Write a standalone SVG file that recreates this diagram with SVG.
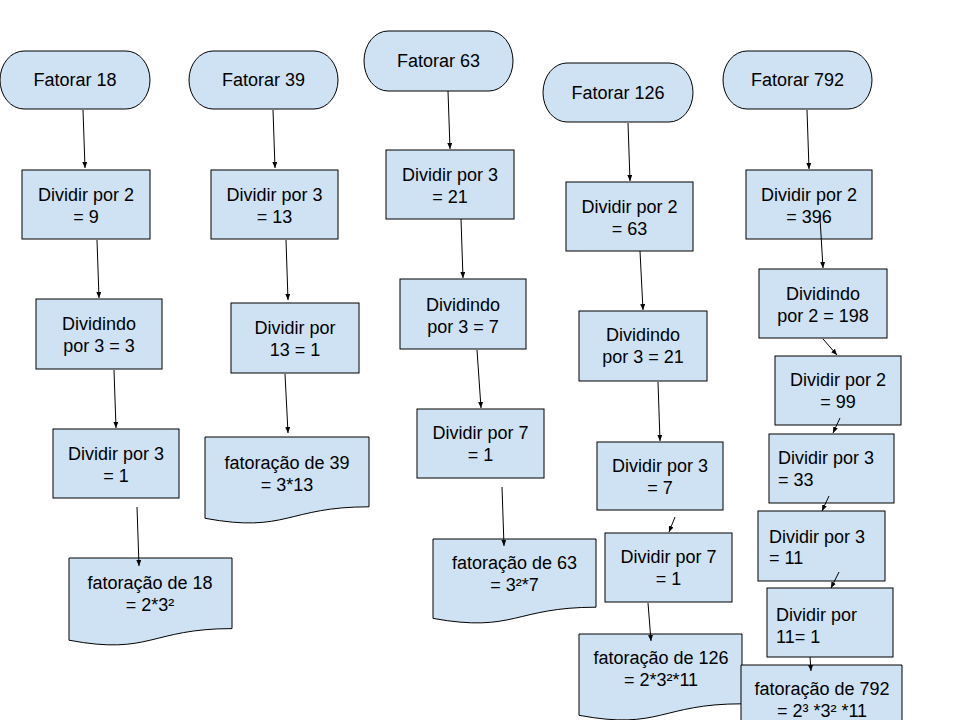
<svg xmlns="http://www.w3.org/2000/svg" width="960" height="720" viewBox="0 0 960 720">
<style>
.n{fill:#cfe2f3;stroke:#000;stroke-width:1}
text{font-family:"Liberation Sans",Arial,sans-serif;font-size:18px;fill:#000}
.c{text-anchor:middle}
.e{stroke:#000;stroke-width:1;fill:none;marker-end:url(#ah)}
</style>
<defs>
<marker id="ah" viewBox="0 0 6 5" refX="6" refY="2.5" markerWidth="6" markerHeight="5" markerUnits="userSpaceOnUse" orient="auto">
<path d="M0,0 L6,2.5 L0,5 Z" fill="#000"/>
</marker>
</defs>
<rect width="960" height="720" fill="#fff"/>

<!-- Column 18 -->
<g id="t18"><rect class="n" x="0" y="51" width="150" height="58" rx="24" ry="29"/><text class="c" x="75" y="86">Fatorar 18</text></g>
<g id="a18"><rect class="n" x="22" y="170" width="128" height="69"/><text class="c" x="86" y="201">Dividir por 2</text><text class="c" x="86" y="223">= 9</text></g>
<g id="b18"><rect class="n" x="36" y="299" width="126" height="70"/><text class="c" x="99" y="330">Dividindo</text><text class="c" x="99" y="352">por 3 = 3</text></g>
<g id="c18"><rect class="n" x="53" y="429" width="126" height="69"/><text class="c" x="116" y="460">Dividir por 3</text><text class="c" x="116" y="482">= 1</text></g>
<g id="d18"><path class="n" d="M69,558 H232 V628.6 C150.5,628.6 150.5,655.5 69,640.2 Z"/><text class="c" x="150" y="589">fatoração de 18</text><text class="c" x="150" y="611">= 2*3²</text></g>

<!-- Column 39 -->
<g id="t39"><rect class="n" x="189" y="51" width="149" height="58" rx="24" ry="29"/><text class="c" x="263.5" y="86">Fatorar 39</text></g>
<g id="a39"><rect class="n" x="211" y="170" width="127" height="69"/><text class="c" x="274.5" y="201">Dividir por 3</text><text class="c" x="274.5" y="223">= 13</text></g>
<g id="b39"><rect class="n" x="231" y="303" width="128" height="70"/><text class="c" x="295" y="334">Dividir por</text><text class="c" x="295" y="356">13 = 1</text></g>
<g id="d39"><path class="n" d="M205,437 H369 V506.8 C287,506.8 287,533.4 205,518.3 Z"/><text class="c" x="287" y="469">fatoração de 39</text><text class="c" x="287" y="491">= 3*13</text></g>

<!-- Column 63 -->
<g id="t63"><rect class="n" x="364" y="31" width="149" height="60" rx="24" ry="30"/><text class="c" x="438.5" y="67">Fatorar 63</text></g>
<g id="a63"><rect class="n" x="386" y="150" width="128" height="69"/><text class="c" x="450" y="181">Dividir por 3</text><text class="c" x="450" y="203">= 21</text></g>
<g id="b63"><rect class="n" x="400" y="279" width="126" height="70"/><text class="c" x="463" y="311">Dividindo</text><text class="c" x="463" y="333">por 3 = 7</text></g>
<g id="c63"><rect class="n" x="417" y="409" width="127" height="69"/><text class="c" x="480.5" y="439">Dividir por 7</text><text class="c" x="480.5" y="461">= 1</text></g>
<g id="d63"><path class="n" d="M433,539 H596 V607.2 C514.5,607.2 514.5,633.1 433,618.4 Z"/><text class="c" x="514.5" y="569">fatoração de 63</text><text class="c" x="514.5" y="591">= 3²*7</text></g>

<!-- Column 126 -->
<g id="t126"><rect class="n" x="543" y="63" width="150" height="59" rx="24" ry="29.5"/><text class="c" x="618" y="99">Fatorar 126</text></g>
<g id="a126"><rect class="n" x="566" y="182" width="127" height="69"/><text class="c" x="629.5" y="213">Dividir por 2</text><text class="c" x="629.5" y="235">= 63</text></g>
<g id="b126"><rect class="n" x="579" y="311" width="128" height="70"/><text class="c" x="643" y="341">Dividindo</text><text class="c" x="643" y="363">por 3 = 21</text></g>
<g id="c126"><rect class="n" x="597" y="442" width="126" height="68"/><text class="c" x="660" y="472">Dividir por 3</text><text class="c" x="660" y="494">= 7</text></g>
<g id="e126"><rect class="n" x="605" y="533" width="127" height="69"/><text class="c" x="668.5" y="563">Dividir por 7</text><text class="c" x="668.5" y="585">= 1</text></g>
<g id="d126"><path class="n" d="M579,634 H742 V703.8 C660.5,703.8 660.5,730.4 579,715.3 Z"/><text class="c" x="661" y="664">fatoração de 126</text><text class="c" x="661" y="686">= 2*3²*11</text></g>

<!-- Column 792 -->
<g id="t792"><rect class="n" x="723" y="51" width="149" height="58" rx="24" ry="29"/><text class="c" x="797.5" y="86">Fatorar 792</text></g>
<g id="a792"><rect class="n" x="746" y="170" width="126" height="69"/><text class="c" x="809" y="201">Dividir por 2</text><text class="c" x="809" y="223">= 396</text></g>
<g id="b792"><rect class="n" x="759" y="269" width="128" height="69"/><text class="c" x="823" y="300">Dividindo</text><text class="c" x="823" y="322">por 2 = 198</text></g>
<g id="c792"><rect class="n" x="775" y="356" width="126" height="69"/><text class="c" x="838" y="386">Dividir por 2</text><text class="c" x="838" y="408">= 99</text></g>
<g id="e792"><rect class="n" x="769" y="434" width="125" height="69"/><text x="778" y="464">Dividir por 3</text><text x="778" y="486">= 33</text></g>
<g id="f792"><rect class="n" x="758" y="511" width="127" height="70"/><text x="769" y="543">Dividir por 3</text><text x="769" y="564">= 11</text></g>
<g id="g792"><rect class="n" x="767" y="588" width="126" height="69"/><text x="776" y="621">Dividir por</text><text x="776" y="643">11= 1</text></g>
<g id="d792"><path class="n" d="M741,665 H902 V734.8 C821.5,734.8 821.5,761.4 741,746.3 Z"/><text class="c" x="822" y="695">fatoração de 792</text><text class="c" x="822" y="717">= 2³ *3² *11</text></g>

<g id="connectors">
<line class="e" x1="83" y1="110" x2="85" y2="168"/>
<line class="e" x1="97" y1="240" x2="99" y2="298"/>
<line class="e" x1="114" y1="370" x2="116" y2="428"/>
<line class="e" x1="137" y1="507" x2="139" y2="566"/>
<line class="e" x1="273" y1="110" x2="275" y2="168"/>
<line class="e" x1="286" y1="240" x2="288" y2="300"/>
<line class="e" x1="285" y1="374" x2="288" y2="433"/>
<line class="e" x1="448" y1="91" x2="450" y2="149"/>
<line class="e" x1="461" y1="219" x2="463" y2="278"/>
<line class="e" x1="477" y1="350" x2="481" y2="408"/>
<line class="e" x1="502" y1="487" x2="504" y2="546"/>
<line class="e" x1="628" y1="123" x2="630" y2="181"/>
<line class="e" x1="640" y1="251" x2="643" y2="310"/>
<line class="e" x1="658" y1="382" x2="660" y2="441"/>
<line class="e" x1="675" y1="517" x2="669" y2="532"/>
<line class="e" x1="648" y1="603" x2="651" y2="641"/>
<line class="e" x1="807" y1="110" x2="809" y2="169"/>
<line class="e" x1="820" y1="218" x2="823" y2="268"/>
<line class="e" x1="823" y1="339" x2="837" y2="355"/>
<line class="e" x1="840" y1="418" x2="833" y2="433"/>
<line class="e" x1="829" y1="496" x2="822" y2="511"/>
<line class="e" x1="839" y1="572" x2="831" y2="588"/>
<line class="e" x1="810" y1="657" x2="811" y2="671"/>
</g>
</svg>
